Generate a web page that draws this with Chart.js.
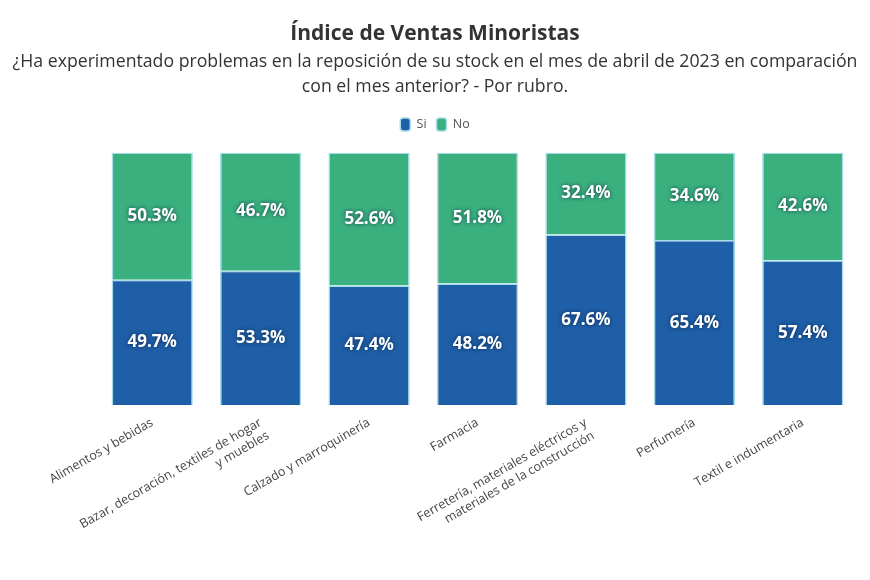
<!DOCTYPE html>
<html>
<head>
<meta charset="utf-8">
<script src="https://cdn.jsdelivr.net/npm/chart.js@4"></script>
<style>
  html, body { margin: 0; padding: 0; background: #fff; }
  #wrap { width: 870px; height: 580px; }
</style>
</head>
<body>
<div id="wrap"><canvas id="chart"></canvas></div>
<script>
const categories = [
  "Alimentos y bebidas",
  ["Bazar, decoración, textiles de hogar", "y muebles"],
  "Calzado y marroquinería",
  "Farmacia",
  ["Ferretería, materiales eléctricos y", "materiales de la construcción"],
  "Perfumería",
  "Textil e indumentaria"
];
const siValues = [49.7, 53.3, 47.4, 48.2, 67.6, 65.4, 57.4];
const noValues = [50.3, 46.7, 52.6, 51.8, 32.4, 34.6, 42.6];

// white percentage text in the middle of each segment
const barLabels = {
  id: "barLabels",
  afterDatasetsDraw(chart) {
    const ctx = chart.ctx;
    ctx.save();
    ctx.font = "bold 17px 'Open Sans'";
    ctx.textAlign = "center";
    ctx.textBaseline = "middle";
    chart.data.datasets.forEach((ds, i) => {
      chart.getDatasetMeta(i).data.forEach((bar, j) => {
        const y = (bar.y + bar.base) / 2;
        ctx.shadowColor = "rgba(0,20,50,0.7)";
        ctx.shadowBlur = 4;
        ctx.fillStyle = "#ffffff";
        ctx.fillText(ds.data[j].toFixed(1) + "%", bar.x, y);
      });
    });
    ctx.restore();
  }
};

// empty axes used only as spacers
const spacer = (pos, size) => ({
  type: pos === "top" ? "category" : "linear",
  position: pos,
  display: true,
  ticks: { display: false },
  grid: { display: false },
  border: { display: false },
  afterFit(s) {
    if (pos === "top") s.height = size; else s.width = size;
  }
});

new Chart(document.getElementById("chart"), {
  type: "bar",
  data: {
    labels: categories,
    datasets: [
      {
        label: "Si",
        data: siValues,
        backgroundColor: "#1f5fa8",
        borderColor: "#a9dcea",
        borderWidth: 1.5
      },
      {
        label: "No",
        data: noValues,
        backgroundColor: "#3bb07f",
        borderColor: "#a9dcea",
        borderWidth: 1.5
      }
    ]
  },
  options: {
    responsive: true,
    maintainAspectRatio: false,
    animation: false,
    layout: { padding: { left: 0, right: 0, top: 8, bottom: 33 } },
    datasets: { bar: { categoryPercentage: 0.75, barPercentage: 1 } },
    scales: {
      x: {
        stacked: true,
        grid: { display: false },
        border: { display: false },
        ticks: {
          color: "#444",
          font: { family: "'Open Sans'", size: 12.5 },
          maxRotation: 30,
          minRotation: 30,
          padding: 2
        }
      },
      y: Object.assign(spacer("left", 98), { stacked: true, min: 0, max: 100 }),
      yRight: spacer("right", 13),
      xTop: spacer("top", 11.5)
    },
    plugins: {
      title: {
        display: true,
        text: "Índice de Ventas Minoristas",
        color: "#333",
        font: { family: "'Open Sans'", size: 21, weight: "bold" },
        padding: { top: 13, bottom: 3 }
      },
      subtitle: {
        display: true,
        text: [
          "¿Ha experimentado problemas en la reposición de su stock en el mes de abril de 2023 en comparación",
          "con el mes anterior? - Por rubro."
        ],
        color: "#333",
        font: { family: "'Open Sans'", size: 17.7, lineHeight: 1.41 },
        padding: { bottom: 9 }
      },
      legend: {
        labels: {
          color: "#555",
          font: { family: "'Open Sans'", size: 12.5 },
          boxWidth: 10,
          boxHeight: 13,
          useBorderRadius: true,
          borderRadius: 3
        }
      },
      tooltip: { enabled: false }
    }
  },
  plugins: [barLabels]
});
</script>
</body>
</html>
